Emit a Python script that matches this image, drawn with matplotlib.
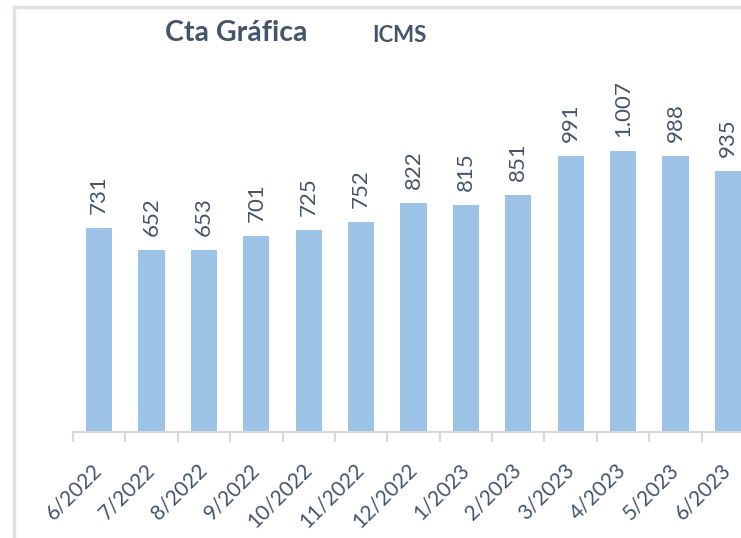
import matplotlib
matplotlib.use("Agg")
import matplotlib.pyplot as plt
from matplotlib.lines import Line2D

categories = ["6/2022", "7/2022", "8/2022", "9/2022", "10/2022", "11/2022", "12/2022",
              "1/2023", "2/2023", "3/2023", "4/2023", "5/2023", "6/2023"]
values = [731, 652, 653, 701, 725, 752, 822, 815, 851, 991, 1007, 988, 935]
labels = ["731", "652", "653", "701", "725", "752", "822", "815", "851", "991", "1.007", "988", "935"]

text_color = "#44546A"
bar_color = "#9DC3E6"
axis_color = "#D9D9D9"
font = ["Lato", "DejaVu Sans"]

fig = plt.figure(figsize=(7.41, 5.38), dpi=100)
W, H = 741, 538

# chart frame
fig.add_artist(Line2D([14 / W, 14 / W], [0, 1 - 7 / H], color="#DDE2E8", lw=2.5, transform=fig.transFigure))
fig.add_artist(Line2D([14 / W, 1], [1 - 7 / H, 1 - 7 / H], color="#DDE2E8", lw=2.5, transform=fig.transFigure))

ax = fig.add_axes([73 / W, 106 / H, (754 - 73) / W, 1100 * 0.279 / H])
x = list(range(len(values)))
ax.bar(x, values, width=0.5, color=bar_color, zorder=2)
ax.set_xlim(-0.5, len(values) - 0.5)
ax.set_ylim(0, 1100)

for xi, v, lab in zip(x, values, labels):
    ax.annotate(lab, (xi, v), xytext=(0, 14), textcoords="offset pixels",
                rotation=90, ha="center", va="bottom",
                fontsize=16, color=text_color, family=font)

for s in ["top", "right", "left"]:
    ax.spines[s].set_visible(False)
ax.spines["bottom"].set_color(axis_color)
ax.spines["bottom"].set_linewidth(1.5)
ax.set_yticks([])
ax.set_xticks([i - 0.5 for i in range(len(values) + 1)], minor=False)
ax.set_xticklabels([])
ax.tick_params(axis="x", which="major", length=7, width=1.5, color=axis_color, direction="out")
ax.set_xticks(x, minor=True)
ax.set_xticklabels(categories, minor=True, rotation=45, ha="right", va="center",
                   rotation_mode="anchor",
                   fontsize=15, color=text_color, family=font)
ax.tick_params(axis="x", which="minor", length=0, pad=25)

fig.text(165 / W, 1 - 33 / H, "Cta Gráfica", fontsize=20.5, fontweight="bold",
         color=text_color, family=font, va="center", ha="left")
fig.text(372 / W, 1 - 35 / H, "ICMS", fontsize=16, fontweight="bold",
         color=text_color, family=font, va="center", ha="left")

fig.savefig("out.png", dpi=100)
